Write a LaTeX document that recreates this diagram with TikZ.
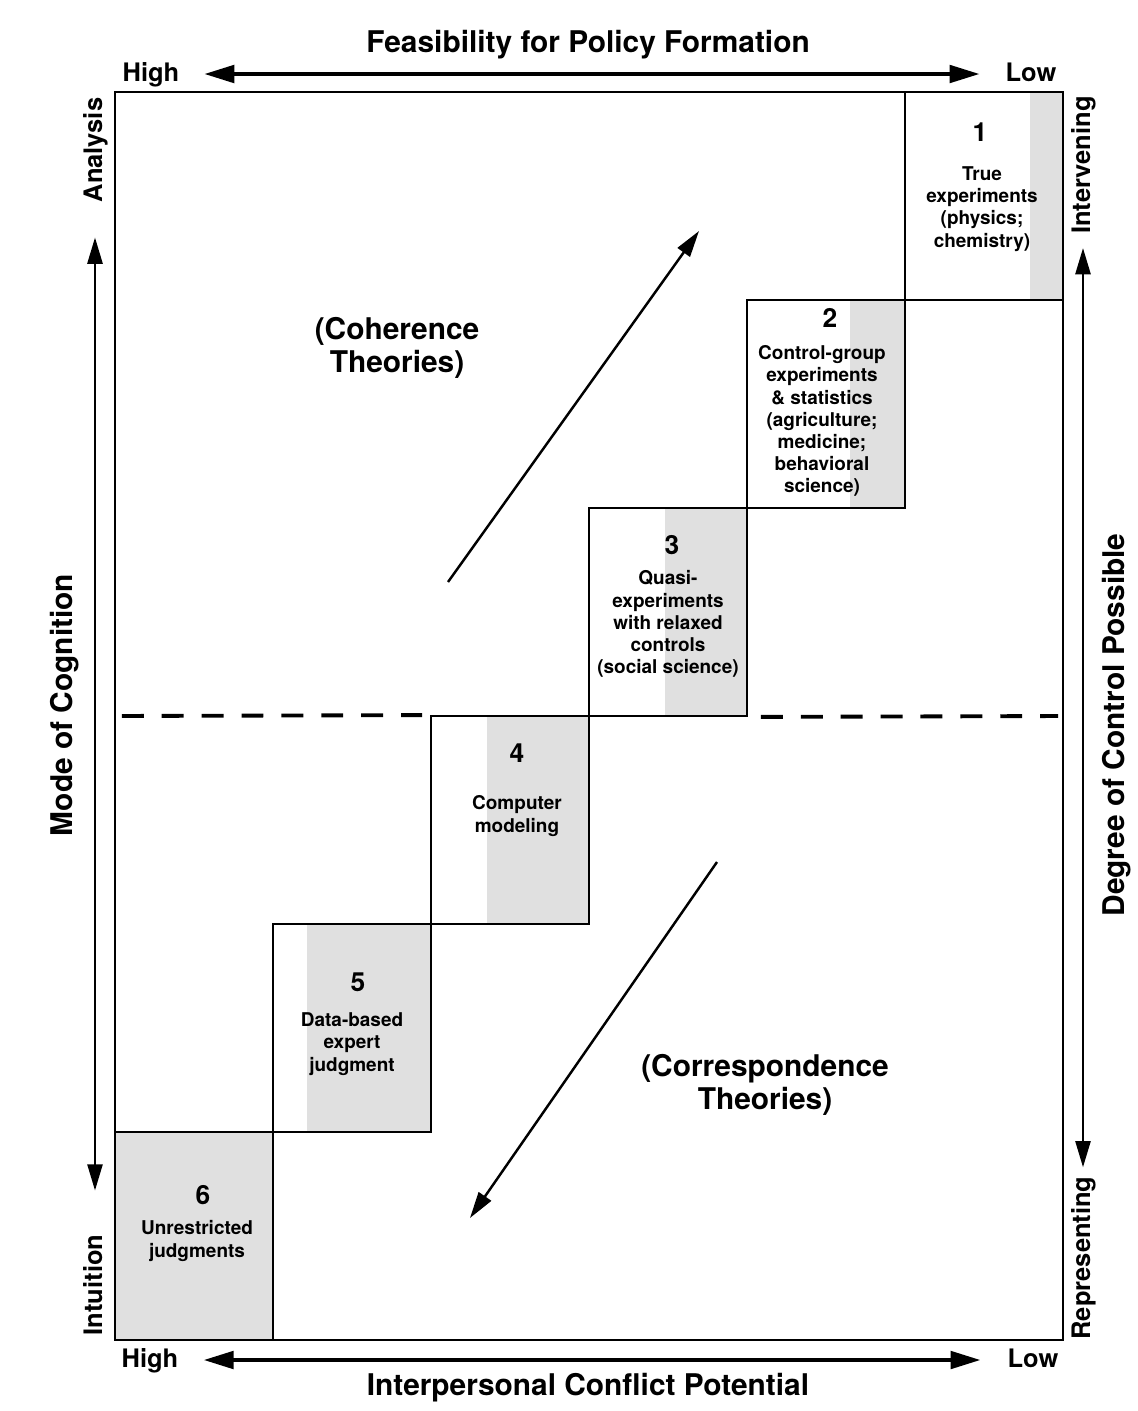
\documentclass[tikz,border=0pt]{standalone}
\usepackage{fontspec}
\setmainfont{TeX Gyre Heros}
\usetikzlibrary{arrows.meta, positioning}

\begin{document}
\begin{tikzpicture}[x=0.02cm, y=-0.02cm, font=\bfseries,
  cellbox/.style={draw, line width=1.1pt, minimum width=3.16cm,
    minimum height=4.16cm, inner sep=0pt},
  shade/.style={fill=black!12},
  num/.style={font=\bfseries\fontsize{15}{18}\selectfont},
  celltext/.style={align=center, font=\bfseries\fontsize{10.8}{12.6}\selectfont},
  theory/.style={align=center, font=\bfseries\fontsize{17}{18.5}\selectfont},
  axtitle/.style={font=\bfseries\fontsize{17}{20}\selectfont},
  endlabel/.style={font=\bfseries\fontsize{14.5}{17}\selectfont,
    text height=11pt, text depth=3pt},
  sidelabel/.style={rotate=90, font=\bfseries\fontsize{14.5}{17}\selectfont,
    text height=11pt, text depth=3pt},
  sidetitle/.style={rotate=90, font=\bfseries\fontsize{17}{20}\selectfont},
  axisarrow/.style={line width=2pt,
    {Triangle[length=17pt,width=10pt]}-{Triangle[length=17pt,width=10pt]}},
  sidearrow/.style={line width=1.6pt,
    {Triangle[length=15pt,width=8.5pt]}-{Triangle[length=15pt,width=8.5pt]}},
  trend/.style={line width=1.4pt, -{Triangle[length=15pt,width=8.5pt]}},
  divide/.style={line width=2.2pt, dash pattern=on 12.5pt off 10.2pt}]
\useasboundingbox (0,0) rectangle (1137,1411);

% ---------------- shading of the cells ----------------
\fill[shade] (1030,92) rectangle (1063,300);
\fill[shade] (850,300) rectangle (905,508);
\fill[shade] (665,508) rectangle (747,716);
\fill[shade] (487,716) rectangle (589,924);
\fill[shade] (307,924) rectangle (431,1132);
\fill[shade] (115,1132) rectangle (273,1340);

% ---------------- frame and staircase ----------------
\node[draw, line width=1.3pt, minimum width=18.96cm, minimum height=24.96cm,
      inner sep=0pt] (frame) at (589,716) {};
\node[cellbox] (c1) at (984,196) {};
\node[cellbox] (c2) at (826,404) {};
\node[cellbox] (c3) at (668,612) {};
\node[cellbox] (c4) at (510,820) {};
\node[cellbox] (c5) at (352,1028) {};
\node[cellbox] (c6) at (194,1236) {};

% cell contents
\node[num] (n1) at (980,132) {1};
\node[celltext] (t1) at (982,209) {True\\experiments\\(physics;\\chemistry)};
\node[num] (n2) at (830,318) {2};
\node[celltext] (t2) at (822,421) {Control-group\\experiments\\\& statistics\\(agriculture;\\medicine;\\behavioral\\science)};
\node[num] (n3) at (672,545) {3};
\node[celltext] (t3) at (668,624) {Quasi-\\experiments\\with relaxed\\controls\\(social science)};
\node[num] (n4) at (517,753) {4};
\node[celltext] (t4) at (517,816) {Computer\\modeling};
\node[num] (n5) at (358,982) {5};
\node[celltext] (t5) at (352,1044) {Data-based\\expert\\judgment};
\node[num] (n6) at (203,1195) {6};
\node[celltext] (t6) at (197,1241) {Unrestricted\\judgments};

% dividing line between analysis and intuition
\draw[divide, shorten <=4.5pt, shorten >=4.5pt] (frame.west) -- (c4.north west);
\draw[divide, shorten <=7.4pt, shorten >=3.4pt] (c3.south east) -- (frame.east);

% ---------------- theories and trends ----------------
\node[theory] (coh) at (397,348) {(Coherence\\Theories)};
\node[theory] (corr) at (765,1085) {(Correspondence\\Theories)};
\coordinate (cohS) at (448,582);
\coordinate (cohE) at (699,231);
\coordinate (corS) at (717,862);
\coordinate (corE) at (470,1218);
\draw[trend] (cohS) -- (cohE);
\draw[trend] (corS) -- (corE);

% ---------------- axes ----------------
\node[axtitle] (ttlT) at (588,45) {Feasibility for Policy Formation};
\node[endlabel] (hiT) at (151,74) {High};
\node[endlabel] (loT) at (1031,74) {Low};
\draw[axisarrow, shorten <=10.8pt, shorten >=11.4pt] (hiT) -- (loT);

\node[endlabel] (hiB) at (150,1360) {High};
\node[endlabel] (loB) at (1033,1360) {Low};
\draw[axisarrow, shorten <=11pt, shorten >=12pt] (hiB) -- (loB);
\node[axtitle] (ttlB) at (588,1388) {Interpersonal Conflict Potential};

\node[sidelabel] (anaL) at (95,150) {Analysis};
\node[sidelabel] (intuL) at (95,1285) {Intuition};
\draw[sidearrow, shorten <=16.5pt, shorten >=21.6pt] (anaL) -- (intuL);
\node[sidetitle] (modeL) at (65,705) {Mode of Cognition};

\node[sidelabel] (intvL) at (1083,165) {Intervening};
\node[sidelabel] (repL) at (1083,1258) {Representing};
\draw[sidearrow, shorten <=4.6pt, shorten >=1.7pt] (intvL) -- (repL);
\node[sidetitle] (degL) at (1117,725) {Degree of Control Possible};
\end{tikzpicture}
\end{document}
